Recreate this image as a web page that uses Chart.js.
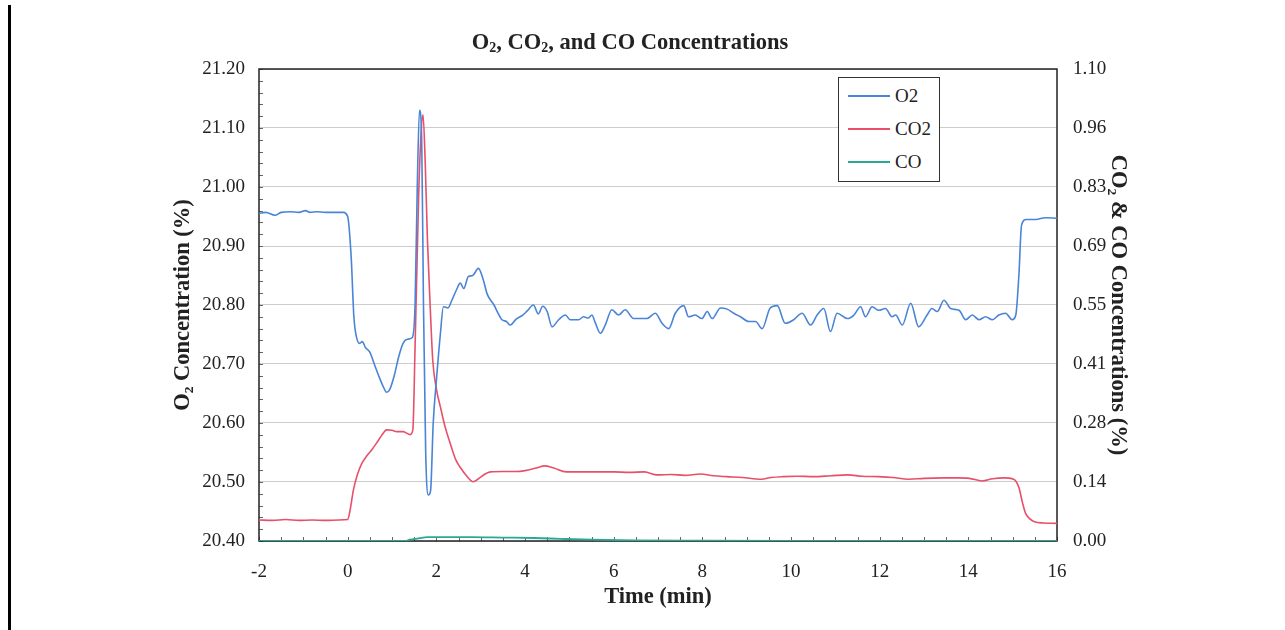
<!DOCTYPE html>
<html>
<head>
<meta charset="utf-8">
<title>O2, CO2, and CO Concentrations</title>
<script src="https://cdn.jsdelivr.net/npm/chart.js@4.4.1/dist/chart.umd.min.js"></script>
<style>
  body { margin: 0; background: #fff; }
  #wrap { position: relative; width: 1285px; height: 630px; }
  #edge { position: absolute; left: 8px; top: 5px; width: 3px; height: 625px; background: #000; }
  #title { position: absolute; left: 330px; top: 29px; width: 600px; text-align: center;
           font: bold 22.5px "Liberation Serif", serif; line-height: 26px; color: #222; }
  #title sub { font-size: 14px; vertical-align: -3px; line-height: 0; }
  #legend { position: absolute; left: 838px; top: 77px; width: 102px; height: 105px;
            box-sizing: border-box; border: 1.5px solid #333; background: #fff; padding-top: 1px; }
  #legend .item { height: 33px; display: flex; align-items: center;
                  font: 19px "Liberation Serif", serif; color: #222; }
  #legend .swatch { width: 42px; height: 2px; margin-left: 9px; margin-right: 5px; }
</style>
</head>
<body>
<div id="wrap">
  <div id="edge"></div>
  <canvas id="chart" width="1285" height="630"></canvas>
  <div id="title">O<sub>2</sub>, CO<sub>2</sub>, and CO Concentrations</div>
  <div id="legend"></div>
</div>
<script>
// time in minutes
const o2Time = [
  -2.0, -1.85, -1.64, -1.5, -1.3, -1.1, -0.95, -0.85, -0.7, -0.5, -0.3, -0.1,
  0.0, 0.08, 0.14, 0.2, 0.27, 0.33, 0.4, 0.5, 0.6, 0.7, 0.8, 0.88, 0.95,
  1.05, 1.15, 1.25, 1.35, 1.46, 1.52, 1.57, 1.62, 1.67, 1.71, 1.76, 1.82, 1.87, 1.93,
  2.01, 2.09, 2.16, 2.26, 2.35, 2.45, 2.54, 2.62, 2.72, 2.82, 2.95,
  3.05, 3.15, 3.3, 3.4, 3.48, 3.58, 3.67, 3.8, 3.95,
  4.05, 4.19, 4.3, 4.4, 4.5, 4.61, 4.76, 4.91,
  5.02, 5.21, 5.32, 5.43, 5.51, 5.58, 5.70, 5.81, 5.96,
  6.11, 6.26, 6.45, 6.60, 6.75, 6.94,
  7.09, 7.24, 7.39, 7.58, 7.69, 7.84, 7.99,
  8.11, 8.22, 8.41, 8.56, 8.71, 8.86,
  9.05, 9.20, 9.35, 9.53, 9.69, 9.87,
  10.06, 10.25, 10.44, 10.59, 10.74, 10.89,
  11.04, 11.27, 11.42, 11.57, 11.68, 11.83, 11.98,
  12.13, 12.28, 12.36, 12.51, 12.70, 12.88,
  13.07, 13.18, 13.30, 13.45, 13.60, 13.79, 13.94,
  14.09, 14.24, 14.39, 14.54, 14.69, 14.84, 14.99,
  15.07, 15.14, 15.20, 15.31, 15.52, 15.74, 16.0
];
const o2Values = [
  20.955, 20.957, 20.952, 20.957, 20.958, 20.957, 20.960, 20.957, 20.958, 20.957, 20.957, 20.957,
  20.950, 20.880, 20.780, 20.745, 20.735, 20.738, 20.728, 20.720, 20.700, 20.680, 20.662, 20.652, 20.657,
  20.680, 20.712, 20.735, 20.742, 20.745, 20.800, 21.000, 21.130, 21.080, 20.800, 20.550, 20.478, 20.485, 20.600,
  20.680, 20.750, 20.797, 20.795, 20.808, 20.825, 20.837, 20.828, 20.848, 20.850, 20.862,
  20.845, 20.818, 20.800, 20.785, 20.775, 20.772, 20.766, 20.776, 20.783,
  20.790, 20.800, 20.785, 20.798, 20.789, 20.763, 20.775, 20.783,
  20.775, 20.775, 20.780, 20.778, 20.783, 20.771, 20.752, 20.766, 20.792,
  20.783, 20.792, 20.777, 20.777, 20.777, 20.786,
  20.769, 20.760, 20.786, 20.799, 20.780, 20.783, 20.777,
  20.789, 20.777, 20.795, 20.793, 20.786, 20.780,
  20.772, 20.772, 20.760, 20.795, 20.799, 20.769,
  20.775, 20.786, 20.766, 20.783, 20.794, 20.755,
  20.786, 20.777, 20.783, 20.797, 20.780, 20.797, 20.791,
  20.794, 20.780, 20.783, 20.766, 20.803, 20.763,
  20.783, 20.794, 20.789, 20.808, 20.794, 20.791, 20.775,
  20.783, 20.775, 20.780, 20.775, 20.783, 20.786, 20.775,
  20.783, 20.850, 20.935, 20.945, 20.945, 20.948, 20.947
];

const co2Time = [
  -2.0, -1.7, -1.4, -1.1, -0.8, -0.5, -0.2, 0.0, 0.06, 0.13, 0.22, 0.32, 0.43, 0.54, 0.65, 0.76, 0.88,
  1.0, 1.11, 1.25, 1.41, 1.47, 1.52, 1.60, 1.66, 1.70, 1.75, 1.80, 1.86, 1.92,
  2.0, 2.09, 2.2, 2.30, 2.44, 2.55, 2.68, 2.83, 2.95,
  3.1, 3.22, 3.5, 3.8, 4.0, 4.25, 4.44, 4.65, 4.93,
  5.3, 5.62, 6.0, 6.35, 6.69, 6.98, 7.3, 7.6, 7.96,
  8.25, 8.55, 8.9, 9.33, 9.55, 9.82, 10.15, 10.5, 10.9,
  11.28, 11.6, 11.97, 12.3, 12.65, 13.0, 13.44, 13.75,
  14.02, 14.31, 14.55, 14.8, 15.02, 15.14, 15.22, 15.29, 15.38, 15.49, 15.7, 16.0
];
const co2Values = [
  0.049, 0.048, 0.050, 0.048, 0.049, 0.048, 0.049, 0.050, 0.075, 0.119, 0.155, 0.181, 0.198, 0.212, 0.228, 0.245, 0.259,
  0.258, 0.255, 0.255, 0.248, 0.259, 0.450, 0.800, 0.960, 0.993, 0.880, 0.700, 0.550, 0.420,
  0.355, 0.313, 0.265, 0.232, 0.189, 0.170, 0.152, 0.138, 0.145,
  0.156, 0.161, 0.162, 0.162, 0.164, 0.170, 0.175, 0.170, 0.161,
  0.161, 0.161, 0.161, 0.160, 0.161, 0.154, 0.155, 0.153, 0.156,
  0.152, 0.150, 0.148, 0.144, 0.148, 0.150, 0.151, 0.150, 0.152,
  0.154, 0.151, 0.150, 0.148, 0.144, 0.146, 0.147, 0.147,
  0.146, 0.140, 0.145, 0.147, 0.144, 0.125, 0.090, 0.065, 0.052, 0.045, 0.042, 0.041
];

const coTime = [-2.0, 0.0, 1.3, 1.4, 1.6, 1.8, 2.2, 2.8, 3.5, 4.2, 4.8, 5.5, 6.5, 8.0, 10.0, 13.0, 16.0];
const coValues = [0.0, 0.0, 0.0, 0.003, 0.006, 0.009, 0.009, 0.009, 0.008, 0.007, 0.005, 0.003, 0.0015, 0.001, 0.0005, 0.0002, 0.0];

const timeTicks = [-2, 0, 2, 4, 6, 8, 10, 12, 14, 16];
const o2TickLabels = ['20.40', '20.50', '20.60', '20.70', '20.80', '20.90', '21.00', '21.10', '21.20'];
const gasTickLabels = ['0.00', '0.14', '0.28', '0.41', '0.55', '0.69', '0.83', '0.96', '1.10'];

function toPoints(xs, ys) {
  return xs.map((x, i) => ({ x: x, y: ys[i] }));
}

const serif = '"Liberation Serif", "DejaVu Serif", serif';
const tickFont = { family: serif, size: 19 };
const titleFont = { family: serif, size: 22.5, weight: 'bold' };

// box round the plot area plus the small inner tick marks
const framePlugin = {
  id: 'frame',
  beforeDatasetsDraw(chart) {
    const { ctx, chartArea: a } = chart;
    const y = chart.scales.y, x = chart.scales.x;
    ctx.save();
    ctx.strokeStyle = '#666';
    ctx.lineWidth = 1;
    ctx.beginPath();
    for (let v = 20.4; v <= 21.2001; v += 0.02) {
      const py = Math.round(y.getPixelForValue(v)) + 0.5;
      ctx.moveTo(a.left, py);
      ctx.lineTo(a.left + 4, py);
    }
    for (let t = -2; t <= 16; t += 0.5) {
      const px = Math.round(x.getPixelForValue(t)) + 0.5;
      ctx.moveTo(px, a.bottom);
      ctx.lineTo(px, a.bottom - 4);
    }
    ctx.stroke();
    ctx.strokeStyle = '#222';
    ctx.lineWidth = 1.5;
    ctx.strokeRect(a.left, a.top, a.right - a.left, a.bottom - a.top);
    ctx.restore();
  }
};

const chart = new Chart(document.getElementById('chart'), {
  type: 'line',
  data: {
    datasets: [
      {
        label: 'O2',
        data: toPoints(o2Time, o2Values),
        borderColor: '#4a84d6',
        borderWidth: 1.6,
        pointRadius: 0,
        cubicInterpolationMode: 'monotone',
        yAxisID: 'y'
      },
      {
        label: 'CO2',
        data: toPoints(co2Time, co2Values),
        borderColor: '#e8506a',
        borderWidth: 1.6,
        pointRadius: 0,
        cubicInterpolationMode: 'monotone',
        yAxisID: 'y2'
      },
      {
        label: 'CO',
        data: toPoints(coTime, coValues),
        borderColor: '#2aa896',
        borderWidth: 1.8,
        pointRadius: 0,
        cubicInterpolationMode: 'monotone',
        yAxisID: 'y2'
      }
    ]
  },
  options: {
    responsive: false,
    animation: false,
    devicePixelRatio: 1,
    layout: { padding: { top: 69, left: 160, right: 140, bottom: 0 } },
    plugins: {
      legend: { display: false },
      tooltip: { enabled: false }
    },
    scales: {
      x: {
        type: 'linear',
        min: -2,
        max: 16,
        afterBuildTicks: s => { s.ticks = timeTicks.map(v => ({ value: v })); },
        afterFit: s => { s.height = 89; },
        ticks: { font: tickFont, color: '#222', padding: 20, maxRotation: 0, callback: v => String(v) },
        grid: { display: false, drawTicks: false },
        border: { display: false },
        title: { display: true, text: 'Time (min)', font: titleFont, color: '#222', padding: { top: 0, bottom: 19.5 } }
      },
      y: {
        position: 'left',
        min: 20.4,
        max: 21.2,
        afterBuildTicks: s => { s.ticks = o2TickLabels.map(l => ({ value: parseFloat(l) })); },
        afterFit: s => { s.width = 99; },
        ticks: { font: tickFont, color: '#222', padding: 14, callback: (v, i) => o2TickLabels[i] },
        grid: { color: '#cdcdcd', drawTicks: false },
        border: { display: false },
        title: { display: true, text: 'O₂ Concentration (%)', font: titleFont, color: '#222', padding: { top: 9.5, bottom: 0 } }
      },
      y2: {
        position: 'right',
        min: 0,
        max: 1.1,
        afterBuildTicks: s => { s.ticks = gasTickLabels.map((l, i) => ({ value: i * 1.1 / 8 })); },
        afterFit: s => { s.width = 88; },
        ticks: { font: tickFont, color: '#222', padding: 16, callback: (v, i) => gasTickLabels[i] },
        grid: { drawOnChartArea: false, drawTicks: false },
        border: { display: false },
        title: { display: true, text: 'CO₂ & CO Concentrations (%)', font: titleFont, color: '#222', padding: { top: 13.5, bottom: 0 } }
      }
    }
  },
  plugins: [framePlugin]
});

// legend box drawn from the datasets
const legendBox = document.getElementById('legend');
chart.data.datasets.forEach(ds => {
  const row = document.createElement('div');
  row.className = 'item';
  row.innerHTML = '<span class="swatch" style="background:' + ds.borderColor + '"></span>' + ds.label;
  legendBox.appendChild(row);
});
</script>
</body>
</html>
